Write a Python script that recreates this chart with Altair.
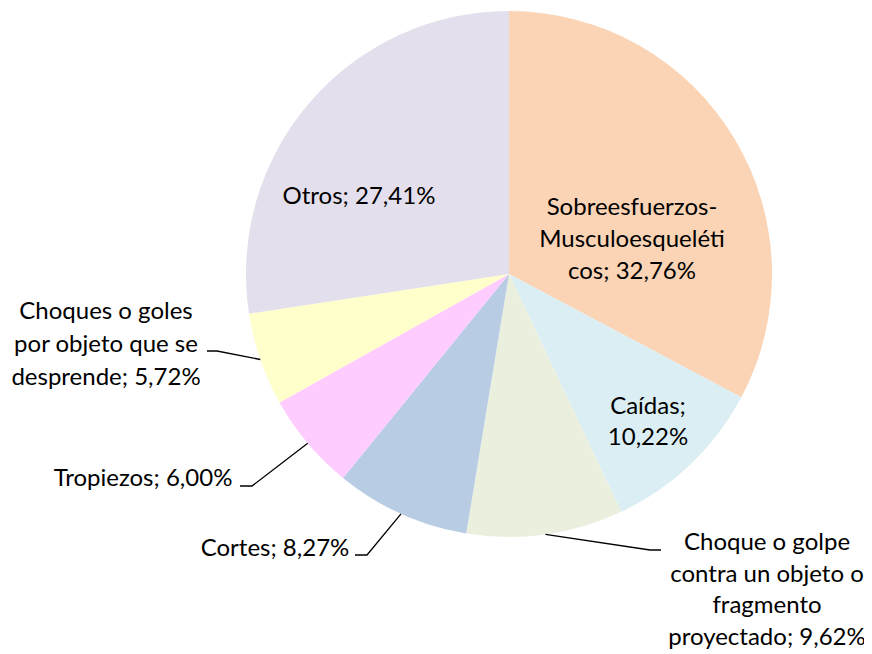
import math
import altair as alt
import pandas as pd

# ---------------- data ----------------
categories = [
    "Sobreesfuerzos-Musculoesqueléticos",
    "Caídas",
    "Choque o golpe contra un objeto o fragmento proyectado",
    "Cortes",
    "Tropiezos",
    "Choques o goles por objeto que se desprende",
    "Otros",
]
values = [32.76, 10.22, 9.62, 8.27, 6.00, 5.72, 27.41]
colors = ["#FAD4B5", "#DAEEF3", "#EBF0DE", "#B8CCE4", "#FFCCFF", "#FFFFCC", "#E4DFEC"]

# ---------------- layout (page pixel coords) ----------------
W, H = 856, 646
OFF = 8
CX, CY, R = 509 - OFF, 274 - OFF, 263
FONT = "Lato"
FS = 24
# character positions where each label wraps
breaks = [[15, 31], [7], [14, 33, 43], [], [], [15, 33], []]
# centre of first text line (page coords) and line height per label
anchors = [(632, 208), (648, 407), (767, 543), (275, 549), (143, 479), (106, 312), (359, 197)]
line_h = [32, 31, 31.5, 32, 32, 33, 32]
# leader elbows / ends (page coords) for outside labels
leaders = {
    2: [(650, 550), (661, 550)],
    3: [(367, 555), (355, 555)],
    4: [(252, 486), (240, 486)],
    5: [(217, 351), (207, 351)],
}


def fmt(v):
    return f"{v:.2f}".replace(".", ",") + "%"


pie_df = pd.DataFrame({"cat": categories, "value": values, "idx": range(len(values))})

# text rows
text_rows = []
for i, (c, v) in enumerate(zip(categories, values)):
    full = f"{c}; {fmt(v)}"
    pts = [0] + breaks[i] + [len(full)]
    lines = [full[a:b].strip() for a, b in zip(pts[:-1], pts[1:])]
    ax, ay = anchors[i]
    for k, ln in enumerate(lines):
        text_rows.append({"t": ln, "x": ax - OFF, "y": ay - OFF + k * line_h[i]})
text_df = pd.DataFrame(text_rows)

# leader lines: start at mid-angle of slice on the rim
total = sum(values)
cum = 0.0
line_rows = []
for i, v in enumerate(values):
    mid = (cum + v / 2) / total * 2 * math.pi
    cum += v
    if i in leaders:
        sx = CX + R * math.sin(mid)
        sy = CY - R * math.cos(mid)
        pts = [(sx, sy)] + [(px - OFF, py - OFF) for px, py in leaders[i]]
        for s, (px, py) in enumerate(pts):
            line_rows.append({"g": i, "s": s, "x": px, "y": py})
line_df = pd.DataFrame(line_rows)

xs = alt.Scale(domain=[0, W], range=[0, W])
ys = alt.Scale(domain=[0, H], range=[0, H])

pie = (
    alt.Chart(pie_df)
    .mark_arc(radius=R, stroke=None)
    .encode(
        theta=alt.Theta("value:Q", stack=True),
        order=alt.Order("idx:Q"),
        color=alt.Color("cat:N", scale=alt.Scale(domain=categories, range=colors), legend=None),
        x=alt.value(CX),
        y=alt.value(CY),
    )
)

lines = (
    alt.Chart(line_df)
    .mark_line(color="#000000", strokeWidth=1.3)
    .encode(
        x=alt.X("x:Q", scale=xs, axis=None),
        y=alt.Y("y:Q", scale=ys, axis=None),
        detail="g:N",
        order="s:Q",
    )
)

texts = (
    alt.Chart(text_df)
    .mark_text(font=FONT, fontSize=FS, color="#000000", align="center", baseline="middle")
    .encode(
        x=alt.X("x:Q", scale=xs, axis=None),
        y=alt.Y("y:Q", scale=ys, axis=None),
        text="t:N",
    )
)

chart = (
    alt.layer(pie, lines, texts)
    .properties(width=W, height=H, autosize=alt.AutoSizeParams(type="none"), padding=0)
    .configure_view(stroke=None)
)

chart.save("out.html", embed_options={"renderer": "svg", "actions": False})
